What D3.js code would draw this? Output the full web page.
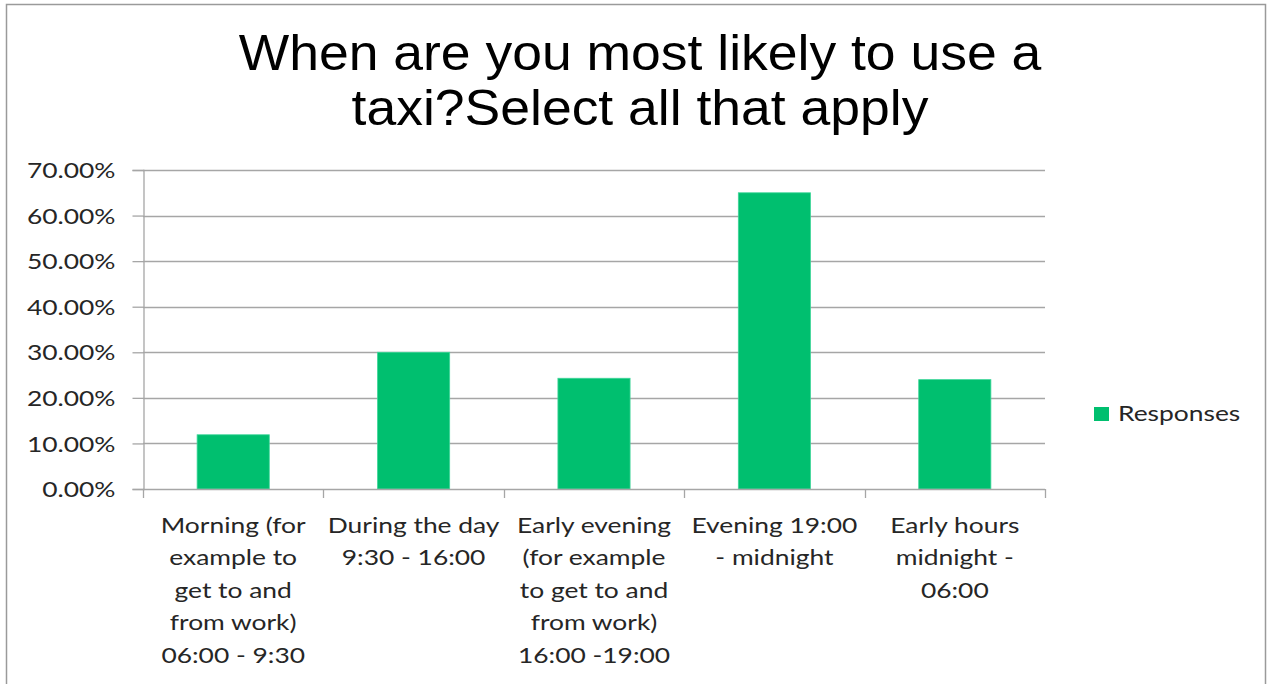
<!DOCTYPE html>
<html>
<head>
<meta charset="utf-8">
<script src="https://cdn.jsdelivr.net/npm/d3@7"></script>
<style>
  html, body { margin: 0; padding: 0; background: #fff; }
  svg { display: block; }
</style>
</head>
<body>
<svg id="chart" width="1271" height="684"></svg>
<script>
// ---- data ----
const titleLines = ["When are you most likely to use a", "taxi?Select all that apply"];
const categories = [
  "Morning (for example to get to and from work) 06:00 - 9:30",
  "During the day 9:30 - 16:00",
  "Early evening (for example to get to and from work) 16:00 -19:00",
  "Evening 19:00 - midnight",
  "Early hours midnight - 06:00"
];
const categoryLines = [
  ["Morning (for", "example to", "get to and", "from work)", "06:00 - 9:30"],
  ["During the day", "9:30 - 16:00"],
  ["Early evening", "(for example", "to get to and", "from work)", "16:00 -19:00"],
  ["Evening 19:00", "- midnight"],
  ["Early hours", "midnight -", "06:00"]
];
const values = [0.119, 0.300, 0.243, 0.650, 0.240];
const yTicks = [0, 0.1, 0.2, 0.3, 0.4, 0.5, 0.6, 0.7];
const seriesName = "Responses";

// ---- layout ----
const svg = d3.select("#chart");
const plot = { left: 143, right: 1045, top: 170, bottom: 489 };
const barColor = "#00BF6F";
const gridColor = "#a6a6a6";
const textColor = "#262626";
const labelFont = "Lato, 'Open Sans', sans-serif";
const labelSize = 22;
const sx = 1.2;      // horizontal stretch of label text
const titleSx = 1.07;

svg.append("rect").attr("x", 0).attr("y", 0).attr("width", 1271).attr("height", 684).attr("fill", "#fff");
svg.append("rect").attr("x", 6.5).attr("y", 4.5).attr("width", 1259).attr("height", 700)
  .attr("fill", "none").attr("stroke", "#9a9a9a").attr("stroke-width", 1.5);

// title
svg.append("text")
  .attr("text-anchor", "middle")
  .attr("transform", `translate(640,0) scale(${titleSx},1)`)
  .attr("font-family", "'Liberation Sans', Arial, sans-serif")
  .attr("font-size", 50)
  .attr("fill", "#000")
  .selectAll("tspan").data(titleLines).join("tspan")
  .attr("x", 0).attr("y", (d, i) => 70 + i * 55).text(d => d);

const y = d3.scaleLinear().domain([0, 0.7]).range([plot.bottom, plot.top]);
const x = d3.scaleBand().domain(categories).range([plot.left, plot.right])
  .paddingInner(0.6).paddingOuter(0.3);

// gridlines
svg.append("g").selectAll("line").data(yTicks.filter(t => t > 0)).join("line")
  .attr("x1", plot.left).attr("x2", plot.right)
  .attr("y1", d => Math.round(y(d)) + 0.5).attr("y2", d => Math.round(y(d)) + 0.5)
  .attr("stroke", gridColor).attr("stroke-width", 1.3);

// y axis
const yAxis = svg.append("g").attr("transform", `translate(${plot.left + 0.5},0)`)
  .call(d3.axisLeft(y).tickValues(yTicks).tickSize(11).tickPadding(16)
    .tickFormat(d => (d * 100).toFixed(2) + "%"));
yAxis.select(".domain").attr("stroke", gridColor).attr("stroke-width", 1.3);
yAxis.selectAll(".tick line").attr("stroke", gridColor).attr("stroke-width", 1.3);
yAxis.selectAll(".tick text").attr("font-family", labelFont).attr("font-size", labelSize)
  .attr("fill", textColor).attr("dy", "0.35em")
  .attr("x", -28 / sx).attr("transform", `scale(${sx},1)`);

// bars
svg.append("g").selectAll("rect").data(values).join("rect")
  .attr("x", (d, i) => x(categories[i]))
  .attr("y", d => y(d))
  .attr("width", x.bandwidth())
  .attr("height", d => y(0) - y(d))
  .attr("fill", barColor)
  .attr("stroke", "#3fd69a").attr("stroke-width", 0.8);

// x axis
const boundaries = d3.range(categories.length + 1).map(i => plot.left + i * x.step());
svg.append("line").attr("x1", plot.left).attr("x2", plot.right)
  .attr("y1", plot.bottom + 0.5).attr("y2", plot.bottom + 0.5)
  .attr("stroke", gridColor).attr("stroke-width", 1.3);
svg.append("g").selectAll("line").data(boundaries).join("line")
  .attr("x1", d => Math.round(d) + 0.5).attr("x2", d => Math.round(d) + 0.5)
  .attr("y1", plot.bottom).attr("y2", plot.bottom + 9)
  .attr("stroke", gridColor).attr("stroke-width", 1.3);

// category labels
svg.append("g").selectAll("text").data(categoryLines).join("text")
  .attr("text-anchor", "middle")
  .attr("transform", (lines, i) => `translate(${x(categories[i]) + x.bandwidth() / 2},0) scale(${sx},1)`)
  .attr("font-family", labelFont).attr("font-size", labelSize).attr("fill", textColor)
  .each(function (lines) {
    d3.select(this).selectAll("tspan").data(lines).join("tspan")
      .attr("x", 0)
      .attr("y", (d, j) => 533 + j * 32.5)
      .text(d => d);
  });

// legend
svg.append("rect").attr("x", 1094).attr("y", 407).attr("width", 15).attr("height", 14).attr("fill", barColor);
svg.append("text").attr("transform", `translate(1118,0) scale(${sx},1)`).attr("x", 0).attr("y", 421)
  .attr("font-family", labelFont).attr("font-size", labelSize).attr("fill", textColor)
  .text(seriesName);
</script>
</body>
</html>
